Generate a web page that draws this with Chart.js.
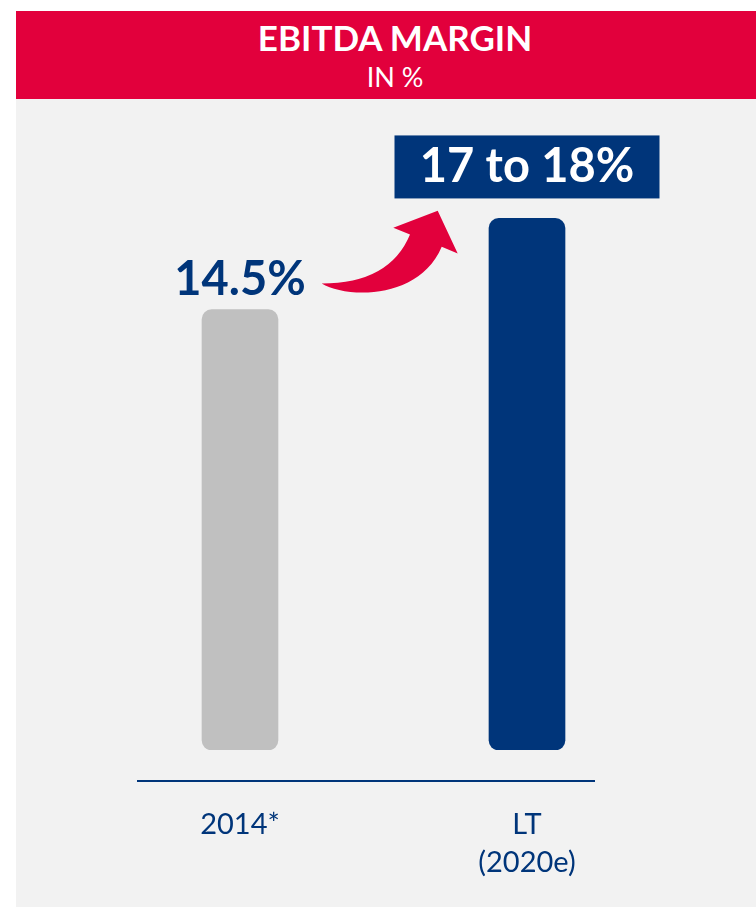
<!DOCTYPE html>
<html>
<head>
<meta charset="utf-8">
<script src="https://cdn.jsdelivr.net/npm/chart.js@4.4.1/dist/chart.umd.min.js"></script>
<style>
    html, body { margin: 0; padding: 0; background: #fff; }
    #page { position: relative; width: 756px; height: 907px; overflow: hidden; font-family: Lato, sans-serif; }
    #header { position: absolute; left: 16px; top: 11px; width: 740px; height: 88px; background: #e2003c; color: #fff; }
    #title, #subtitle { position: absolute; left: 0; width: 100%; text-align: center; padding-left: 18px; box-sizing: border-box; white-space: nowrap; }
    #title { top: 4.5px; font-weight: 700; font-size: 35px; line-height: 42px; }
    #subtitle { top: 50.4px; font-weight: 400; font-size: 27px; line-height: 32.4px; }
    #panel { position: absolute; left: 16px; top: 99px; width: 740px; height: 808px; background: #f2f2f2; }
    #chartBox { position: absolute; left: 0; top: 0; width: 740px; height: 808px; }
</style>
</head>
<body>
<div id="page">
    <div id="header">
        <div id="title">EBITDA MARGIN</div>
        <div id="subtitle">IN %</div>
    </div>
    <div id="panel">
        <div id="chartBox"><canvas id="marginChart"></canvas></div>
    </div>
</div>
<script>
/* ===== DATA ===== */
const categories = ['2014*', ['LT', '(2020e)']];
const margins = [14.5, 17.5];          // 17.5 = milieu de "17 to 18%"
const valueLabels = ['14.5%', '17 to 18%'];
const barColors = ['#c0c0c0', '#00357a'];

const NAVY = '#00357a';
const RED = '#e2003c';

Chart.defaults.font.family = 'Lato, sans-serif';

// etiquettes, encadre, fleche et ligne de base
const annotations = {
    id: 'annotations',
    afterDatasetsDraw(chart) {
        const ctx = chart.ctx;
        const bars = chart.getDatasetMeta(0).data;
        const gray = bars[0];
        const blue = bars[1];
        const zeroY = chart.scales.y.getPixelForValue(0);

        ctx.save();

        // ligne de base
        ctx.strokeStyle = NAVY;
        ctx.lineWidth = 2;
        ctx.beginPath();
        ctx.moveTo(gray.x - 103, zeroY + 31);
        ctx.lineTo(blue.x + 68, zeroY + 31);
        ctx.stroke();

        // 14.5%
        ctx.font = 'bold 47px Lato, sans-serif';
        ctx.textAlign = 'center';
        ctx.textBaseline = 'alphabetic';
        ctx.fillStyle = NAVY;
        ctx.fillText(valueLabels[0], gray.x, gray.y - 15);

        // encadre 17 to 18%
        const boxW = 265, boxH = 63;
        const boxBottom = blue.y - 20;
        ctx.fillStyle = NAVY;
        ctx.fillRect(blue.x - boxW / 2, boxBottom - boxH, boxW, boxH);
        ctx.fillStyle = '#fff';
        ctx.fillText(valueLabels[1], blue.x, boxBottom - 16);

        // fleche rouge
        const bx = blue.x, by = blue.y;
        ctx.fillStyle = RED;
        ctx.beginPath();
        ctx.moveTo(bx - 205.3, by + 65);
        ctx.quadraticCurveTo(bx - 137.3, by + 65, bx - 117, by + 16);
        ctx.lineTo(bx - 133.7, by + 9.3);
        ctx.lineTo(bx - 89.3, by - 7.7);
        ctx.lineTo(bx - 69.3, by + 35);
        ctx.lineTo(bx - 85.3, by + 28.3);
        ctx.bezierCurveTo(bx - 107.7, by + 81.7, bx - 180.3, by + 80, bx - 205.3, by + 65);
        ctx.closePath();
        ctx.fill();

        ctx.restore();
    }
};

function initChart() {
    const canvas = document.querySelector('#marginChart');

    new Chart(canvas, {
        type: 'bar',
        data: {
            labels: categories,
            datasets: [{
                data: margins,
                backgroundColor: barColors,
                borderRadius: 10,
                borderSkipped: false,
                barThickness: 76
            }]
        },
        options: {
            responsive: true,
            maintainAspectRatio: false,
            animation: false,
            layout: {
                padding: { left: 80.5, right: 85.5, top: 43.5, bottom: 0 }
            },
            plugins: {
                legend: { display: false },
                tooltip: { enabled: false }
            },
            scales: {
                x: {
                    grid: { display: false, drawTicks: false },
                    border: { display: false },
                    ticks: {
                        color: NAVY,
                        font: { size: 29, lineHeight: 1.33 },
                        padding: 55
                    },
                    afterFit(scale) {
                        scale.height = 157;
                    }
                },
                y: {
                    display: false,
                    min: 0,
                    max: 20
                }
            }
        },
        plugins: [annotations]
    });
}

document.addEventListener('DOMContentLoaded', initChart);
</script>
</body>
</html>
